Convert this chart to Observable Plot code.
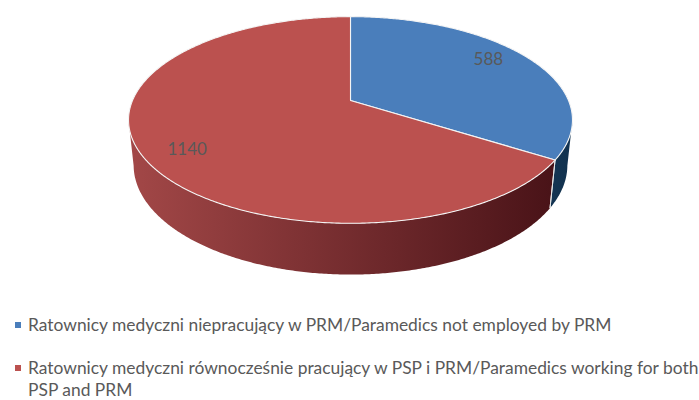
<!DOCTYPE html>
<html><head><meta charset="utf-8">
<script src="https://cdn.jsdelivr.net/npm/d3@7"></script>
<script src="https://cdn.jsdelivr.net/npm/@observablehq/plot@0.6"></script>
<style>
body{margin:0;background:#fff;width:699px;height:400px;overflow:hidden;font-family:Lato,"Open Sans",sans-serif;position:relative}
#chart{position:absolute;left:0;top:0}
.item{position:absolute;left:0;padding-left:28px;line-height:22px;color:#595959;font-size:17.4px;white-space:nowrap}
.sw{position:absolute;left:15px;top:8px;width:6px;height:6px}
</style></head><body>
<div id="chart"></div>
<div id="legend"></div>
<script>
// ---- data ----
const categories = [
  "Ratownicy medyczni niepracujący w PRM/Paramedics not employed by PRM",
  "Ratownicy medyczni równocześnie pracujący w PSP i PRM/Paramedics working for both PSP and PRM"
];
const values = [588, 1140];
const labels = ["588", "1140"];
const topColors = ["#4a7ebb", "#bb514f"];
const wallColors = [["#3a6a9a", "#12324f"], ["#a24747", "#461116"]];

// ---- 3D projection (view parameters) ----
const elev = 27.2 * Math.PI / 180, S = Math.sin(elev), C = Math.cos(elev), D = 4.72, H = 0.235;
function proj(thetaDeg, r, yv) {
  const a = thetaDeg * Math.PI / 180, x = r * Math.sin(a), z = r * Math.cos(a);
  const yc = yv * C + z * S, depth = -yv * S + z * C + D;
  return {u: x * D / depth, v: yc * D / depth};
}
const total = d3.sum(values);
let acc = 0;
const slices = values.map((v, i) => {
  const a0 = acc / total * 360; acc += v; const a1 = acc / total * 360;
  return {i, a0, a1, mid: (a0 + a1) / 2};
});
const silR = Math.acos(-C / D) * 180 / Math.PI, silL = 360 - silR;

// walls: one polygon per slice, filled with a horizontal gradient
const wallPts = [];
const wallEdges = [];
slices.forEach(sl => {
  const from = Math.max(sl.a0, silR), to = Math.min(sl.a1, silL);
  if (to <= from) return;
  const n = Math.ceil((to - from) * 2);
  const id = `w${sl.i}`, grad = `url(#wallGrad${sl.i})`;
  for (let k = 0; k <= n; k++) {
    const p = proj(from + (to - from) * k / n, 1, 0);
    wallPts.push({id, x: p.u, y: p.v, grad});
  }
  for (let k = n; k >= 0; k--) {
    const p = proj(from + (to - from) * k / n, 1, -H);
    wallPts.push({id, x: p.u, y: p.v, grad});
  }
});
slices.forEach(sl => {
  [sl.a0, sl.a1].forEach(a => {
    const aa = a % 360;
    if (aa > silR && aa < silL) {
      const p0 = proj(aa, 1, 0), p1 = proj(aa, 1, -H);
      wallEdges.push({x1: p0.u, y1: p0.v, x2: p1.u, y2: p1.v});
    }
  });
});
// tops
const topPts = [];
slices.forEach(sl => {
  const id = `t${sl.i}`;
  topPts.push({id, x: 0, y: 0, col: topColors[sl.i]});
  const n = Math.ceil((sl.a1 - sl.a0) * 2);
  for (let k = 0; k <= n; k++) {
    const p = proj(sl.a0 + (sl.a1 - sl.a0) * k / n, 1, 0);
    topPts.push({id, x: p.u, y: p.v, col: topColors[sl.i]});
  }
});
const labelPts = slices.map(sl => {
  const p = proj(sl.mid - 4.5, 0.82, 0);
  return {x: p.u, y: p.v, text: labels[sl.i]};
});

const xRange = [350 - 218, 350 + 218];
const chart = Plot.plot({
  width: 699, height: 300,
  margin: 0,
  x: {domain: [-1, 1], range: xRange, axis: null},
  y: {domain: [-1, 1], range: [100 + 218, 100 - 218], axis: null},
  color: {type: "identity"},
  style: {fontFamily: "Lato, 'Open Sans', sans-serif", background: "white"},
  marks: [
    Plot.line(wallPts, {x: "x", y: "y", z: "id", fill: "grad", stroke: null, curve: "linear-closed"}),
    Plot.link(wallEdges, {x1: "x1", y1: "y1", x2: "x2", y2: "y2", stroke: "#e6e6e6", strokeWidth: 1}),
    Plot.line(topPts, {x: "x", y: "y", z: "id", fill: "col", stroke: "#f4f4f4", strokeWidth: 1.1, curve: "linear-closed"}),
    Plot.text(labelPts, {x: "x", y: "y", text: "text", fill: "#595959", fontSize: 17})
  ]
});
// gradient definitions for the side walls
const ns = "http://www.w3.org/2000/svg";
const defs = document.createElementNS(ns, "defs");
wallColors.forEach((cols, i) => {
  const g = document.createElementNS(ns, "linearGradient");
  g.setAttribute("id", `wallGrad${i}`);
  g.setAttribute("gradientUnits", "userSpaceOnUse");
  g.setAttribute("x1", xRange[0]); g.setAttribute("x2", xRange[1]);
  g.setAttribute("y1", 0); g.setAttribute("y2", 0);
  cols.forEach((c, j) => {
    const st = document.createElementNS(ns, "stop");
    st.setAttribute("offset", j / (cols.length - 1));
    st.setAttribute("stop-color", c);
    g.appendChild(st);
  });
  defs.appendChild(g);
});
chart.insertBefore(defs, chart.firstChild);
document.getElementById("chart").appendChild(chart);

// legend
const legend = document.getElementById("legend");
const tops = [314, 357];
categories.forEach((cat, i) => {
  const div = document.createElement("div");
  div.className = "item";
  div.style.top = tops[i] + "px";
  const sw = document.createElement("span");
  sw.className = "sw"; sw.style.background = topColors[i];
  div.appendChild(sw);
  const m = cat.match(/^(.*) (PSP and PRM)$/);
  if (m) {
    div.appendChild(document.createTextNode(m[1]));
    div.appendChild(document.createElement("br"));
    div.appendChild(document.createTextNode(m[2]));
  } else div.appendChild(document.createTextNode(cat));
  legend.appendChild(div);
});
</script>
</body></html>
